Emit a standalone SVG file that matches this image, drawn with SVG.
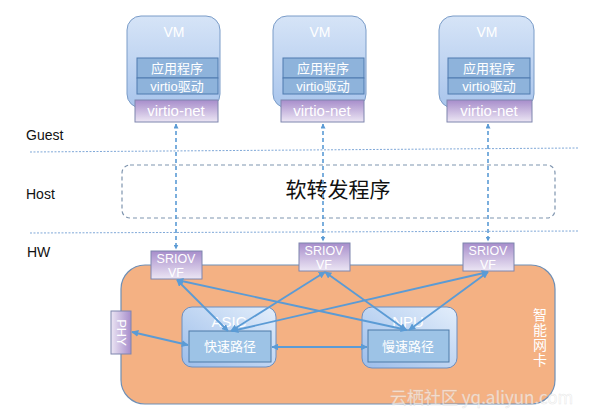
<svg xmlns="http://www.w3.org/2000/svg" width="597" height="418" viewBox="0 0 597 418">
<defs>
<linearGradient id="gVM" x1="0" y1="0" x2="0" y2="1"><stop offset="0" stop-color="#D6E4F7"/><stop offset="1" stop-color="#A9C5EC"/></linearGradient>
<linearGradient id="gPurple" x1="0" y1="0" x2="0" y2="1"><stop offset="0" stop-color="#A78DCB"/><stop offset="1" stop-color="#ECE6F4"/></linearGradient>
<linearGradient id="gPurpleH" x1="1" y1="0" x2="0" y2="0"><stop offset="0" stop-color="#A78DCB"/><stop offset="1" stop-color="#ECE6F4"/></linearGradient>
<linearGradient id="gChip" x1="1" y1="0" x2="0" y2="1"><stop offset="0" stop-color="#E3EEFB"/><stop offset="1" stop-color="#9CBDEA"/></linearGradient>
<marker id="ah" viewBox="0 0 10 10" refX="9" refY="5" markerWidth="5" markerHeight="5" orient="auto-start-reverse" markerUnits="userSpaceOnUse"><path d="M0,0 L10,5 L0,10 z" fill="#5B9BD5"/></marker>
<marker id="ah2" viewBox="0 0 10 10" refX="9" refY="5" markerWidth="7" markerHeight="7" orient="auto-start-reverse" markerUnits="userSpaceOnUse"><path d="M0,0 L10,5 L0,10 z" fill="#5B9BD5"/></marker>
</defs>
<style>
.lat{font-family:"Liberation Sans","Noto Sans CJK SC",sans-serif;}
.cjk{font-family:"Noto Sans CJK SC","Liberation Sans",sans-serif;}
.vm{fill:url(#gVM);stroke:#7A9CC8;stroke-width:1;}
.inner{fill:#8EB3DB;stroke:#4F7BAF;stroke-width:1;}
.pur{fill:url(#gPurple);stroke:#7F86AE;stroke-width:1;}
.wt{fill:#FFFFFF;}
.sep{stroke:#7FA8D8;stroke-width:1;stroke-dasharray:2 1.5;fill:none;}
.vdash{stroke:#5B9BD5;stroke-width:1.6;stroke-dasharray:4 3;fill:none;}
.conn{stroke:#5B9BD5;stroke-width:1.8;fill:none;}
.lab{fill:#111111;font-size:14px;}
</style>

<g id="separators">
<line class="sep" x1="30" y1="152" x2="578" y2="148"/>
<line class="sep" x1="30" y1="233" x2="578" y2="231"/>
</g>
<text class="lat lab" x="26" y="140">Guest</text>
<text class="lat lab" x="26" y="199">Host</text>
<text class="lat lab" x="27" y="257">HW</text>

<g id="host">
<rect x="122" y="165" width="433" height="53" rx="8" fill="none" stroke="#7F95AF" stroke-width="1.2" stroke-dasharray="4 3"/>
<text class="cjk" x="338" y="197" font-size="21" fill="#111" text-anchor="middle">软转发程序</text>
</g>

<g id="nic">
<rect x="121" y="265" width="434" height="139" rx="24" fill="#F4B183" stroke="#6F8FB5" stroke-width="1.2"/>
<text class="cjk wt" x="540" y="308" font-size="14" writing-mode="vertical-rl" letter-spacing="1">智能网卡</text>
</g>

<g id="vm1">
<rect class="vm" x="127" y="16" width="93" height="92" rx="14"/>
<text class="lat wt" x="174" y="37" font-size="14" text-anchor="middle">VM</text>
<rect class="inner" x="137" y="58" width="81" height="20"/>
<text class="cjk wt" x="177" y="73" font-size="13" text-anchor="middle">应用程序</text>
<rect class="inner" x="137" y="78" width="81" height="16"/>
<text class="lat wt" x="177" y="91" font-size="13" text-anchor="middle">virtio驱动</text>
<rect class="pur" x="135" y="100" width="83" height="22"/>
<text class="lat wt" x="176" y="116" font-size="15" text-anchor="middle">virtio-net</text>
</g>
<g id="vm2">
<rect class="vm" x="273" y="16" width="93" height="92" rx="14"/>
<text class="lat wt" x="320" y="37" font-size="14" text-anchor="middle">VM</text>
<rect class="inner" x="283" y="58" width="81" height="20"/>
<text class="cjk wt" x="323" y="73" font-size="13" text-anchor="middle">应用程序</text>
<rect class="inner" x="283" y="78" width="81" height="16"/>
<text class="lat wt" x="323" y="91" font-size="13" text-anchor="middle">virtio驱动</text>
<rect class="pur" x="281" y="100" width="83" height="22"/>
<text class="lat wt" x="322" y="116" font-size="15" text-anchor="middle">virtio-net</text>
</g>
<g id="vm3">
<rect class="vm" x="439" y="16" width="95" height="92" rx="14"/>
<text class="lat wt" x="487" y="37" font-size="14" text-anchor="middle">VM</text>
<rect class="inner" x="448" y="58" width="82" height="20"/>
<text class="cjk wt" x="489" y="73" font-size="13" text-anchor="middle">应用程序</text>
<rect class="inner" x="448" y="78" width="82" height="16"/>
<text class="lat wt" x="489" y="91" font-size="13" text-anchor="middle">virtio驱动</text>
<rect class="pur" x="447" y="100" width="85" height="22"/>
<text class="lat wt" x="489" y="116" font-size="15" text-anchor="middle">virtio-net</text>
</g>

<g id="vf1">
<rect class="pur" x="151" y="251" width="51" height="28"/>
<text class="lat wt" x="176" y="263" font-size="12.5" text-anchor="middle">SRIOV</text>
<text class="lat wt" x="176" y="277" font-size="12.5" text-anchor="middle">VF</text>
</g>
<g id="vf2">
<rect class="pur" x="299" y="243" width="51" height="28"/>
<text class="lat wt" x="324" y="255" font-size="12.5" text-anchor="middle">SRIOV</text>
<text class="lat wt" x="324" y="269" font-size="12.5" text-anchor="middle">VF</text>
</g>
<g id="vf3">
<rect class="pur" x="463" y="243" width="51" height="28"/>
<text class="lat wt" x="488" y="255" font-size="12.5" text-anchor="middle">SRIOV</text>
<text class="lat wt" x="488" y="269" font-size="12.5" text-anchor="middle">VF</text>
</g>

<g id="phy">
<rect x="111" y="311" width="20" height="43" fill="url(#gPurpleH)" stroke="#7F86AE" stroke-width="1"/>
<text class="lat wt" x="0" y="0" font-size="13" text-anchor="middle" transform="translate(116.5,332.5) rotate(90)">PHY</text>
</g>

<g id="asic">
<rect x="182" y="307" width="94" height="60" rx="10" fill="url(#gChip)" stroke="#6D8FC0" stroke-width="1"/>
<text class="lat wt" x="229" y="327" font-size="15" text-anchor="middle">ASIC</text>
<rect x="189" y="331" width="82" height="31" fill="#9DC3E6" stroke="#4D7AA8" stroke-width="1"/>
<text class="cjk wt" x="230" y="351" font-size="13" text-anchor="middle">快速路径</text>
</g>
<g id="npu">
<rect x="362" y="307" width="95" height="61" rx="10" fill="url(#gChip)" stroke="#6D8FC0" stroke-width="1"/>
<text class="lat wt" x="408" y="327" font-size="15" text-anchor="middle">NPU</text>
<rect x="368" y="330" width="81" height="32" fill="#9DC3E6" stroke="#4D7AA8" stroke-width="1"/>
<text class="cjk wt" x="408" y="351" font-size="13" text-anchor="middle">慢速路径</text>
</g>

<g id="connectors">
<line class="vdash" x1="176" y1="124" x2="176" y2="249" marker-start="url(#ah)" marker-end="url(#ah)"/>
<line class="vdash" x1="323" y1="124" x2="323" y2="241" marker-start="url(#ah)" marker-end="url(#ah)"/>
<line class="vdash" x1="488" y1="124" x2="488" y2="241" marker-start="url(#ah)" marker-end="url(#ah)"/>
<line class="conn" x1="177" y1="280" x2="228" y2="331" marker-start="url(#ah2)" marker-end="url(#ah2)"/>
<line class="conn" x1="177" y1="280" x2="407" y2="330" marker-start="url(#ah2)" marker-end="url(#ah2)"/>
<line class="conn" x1="325" y1="272" x2="231" y2="331" marker-start="url(#ah2)" marker-end="url(#ah2)"/>
<line class="conn" x1="325" y1="272" x2="406" y2="330" marker-start="url(#ah2)" marker-end="url(#ah2)"/>
<line class="conn" x1="488" y1="272" x2="232" y2="331" marker-start="url(#ah2)" marker-end="url(#ah2)"/>
<line class="conn" x1="488" y1="272" x2="409" y2="330" marker-start="url(#ah2)" marker-end="url(#ah2)"/>
<line class="conn" x1="132" y1="332" x2="188" y2="345" marker-start="url(#ah2)" marker-end="url(#ah2)"/>
<line class="conn" x1="272" y1="347" x2="367" y2="347" marker-start="url(#ah2)" marker-end="url(#ah2)"/>
</g>

<text class="cjk" x="390" y="404" font-size="17" fill="#FFFFFF" fill-opacity="0.6" stroke="#CCCCCC" stroke-opacity="0.5" stroke-width="0.5">云栖社区 yq.aliyun.com</text>
</svg>
